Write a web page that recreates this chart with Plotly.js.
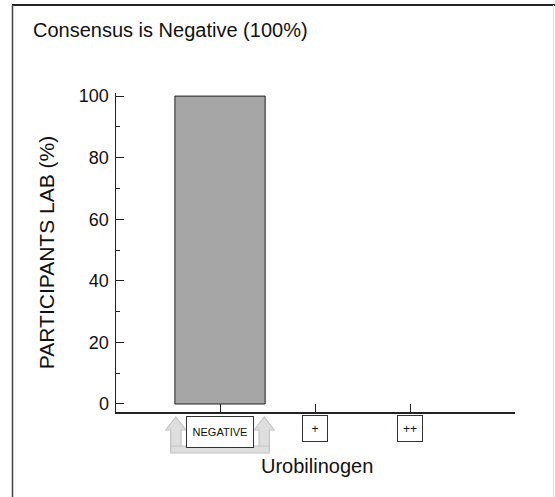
<!DOCTYPE html>
<html>
<head>
<meta charset="utf-8">
<script src="https://cdn.plot.ly/plotly-3.0.1.min.js"></script>
<style>html,body{margin:0;padding:0;background:#fff;}#chart{width:555px;height:497px;}</style>
</head>
<body>
<div id="chart"></div>
<script>
const categories = ["NEGATIVE", "+", "++"];
const participants = [100, 0, 0];
const yTicks = [0, 20, 40, 60, 80, 100];
const consensus = "NEGATIVE";

const W = 555, H = 497;
const mL = 116, mR = 40, mT = 93, mB = 85;
const plotW = W - mL - mR, plotH = H - mT - mB;
const py = p => (H - mB - p) / plotH; // pixel y -> paper y
const px = p => (p - mL) / plotW;     // pixel x -> paper x

const xs = categories.map((c, i) => i);
const ci = categories.indexOf(consensus);
const narrow = 'Liberation Sans Narrow, Arial Narrow, Liberation Sans, Arial';

const annotations = categories.map((c, i) => ({
  x: i, xref: 'x', y: py(i === ci ? 416 : 415), yref: 'paper', yanchor: 'top',
  text: c, showarrow: false,
  font: {family: narrow, size: i === ci ? 11 : 12, color: '#111'},
  width: i === ci ? 64 : 22, height: i === ci ? 28 : 23,
  bordercolor: '#333', borderwidth: 1, borderpad: 1, bgcolor: '#fff'
}));
annotations.push({
  x: px(317), xref: 'paper', y: py(466), yref: 'paper', yanchor: 'middle',
  text: 'Urobilinogen', showarrow: false,
  font: {family: narrow, size: 20, color: '#111'}
});

function arrowShape(cxOff) {
  const c = ci + cxOff;
  const dx = 0.055, hx = 0.105;
  const top = py(417), neck = py(430), bot = py(447);
  return {
    type: 'path', xref: 'x', yref: 'paper',
    path: `M ${c - dx} ${bot} L ${c - dx} ${neck} L ${c - hx} ${neck} L ${c} ${top} L ${c + hx} ${neck} L ${c + dx} ${neck} L ${c + dx} ${bot} Z`,
    fillcolor: '#dedede', line: {color: '#c4c4c4', width: 1.2}, layer: 'above'
  };
}
const frame = (x0, y0, x1, y1, color, width) => ({
  type: 'line', xref: 'paper', yref: 'paper',
  x0: px(x0), y0: py(y0), x1: px(x1), y1: py(y1),
  line: {color, width}, layer: 'below'
});
const shapes = [
  arrowShape(-0.465), arrowShape(0.465),
  {type: 'path', xref: 'x', yref: 'paper',
   path: `M ${ci - 0.52} ${py(446)} L ${ci + 0.52} ${py(446)} L ${ci + 0.52} ${py(453)} L ${ci - 0.52} ${py(453)} Z`,
   fillcolor: '#dedede', line: {color: '#c4c4c4', width: 1.2}, layer: 'above'},
  frame(12, 5, 555, 5, '#222', 2),
  frame(12.5, 5, 12.5, 497, '#444', 1.5),
  frame(553.5, 5, 553.5, 497, '#dddddd', 1)
];

const trace = {
  type: 'bar', x: xs, y: participants, width: 0.95,
  marker: {color: '#a6a6a6', line: {color: '#222', width: participants.map(v => v > 0 ? 1 : 0)}},
  hoverinfo: 'skip'
};

const layout = {
  width: W, height: H,
  margin: {l: mL, r: mR, t: mT, b: mB},
  paper_bgcolor: '#fff', plot_bgcolor: '#fff',
  showlegend: false,
  font: {family: 'Liberation Sans, Arial, sans-serif', color: '#111'},
  title: {text: 'Consensus is Negative (100%)', x: 33 / W, xanchor: 'left', xref: 'container',
          y: 1 - 30 / H, yanchor: 'middle', yref: 'container',
          font: {size: 20, color: '#111', family: 'Liberation Sans, Arial, sans-serif'}},
  xaxis: {
    range: [-1.095, 3.105], showgrid: false, zeroline: false,
    showline: true, linecolor: '#222', linewidth: 1.5,
    tickmode: 'array', tickvals: xs, ticks: 'inside', ticklen: 8, tickcolor: '#222',
    showticklabels: false, fixedrange: true
  },
  yaxis: {
    range: [-2.6, 101], showgrid: false, zeroline: false,
    showline: true, linecolor: '#222', linewidth: 1.5,
    tickmode: 'array', tickvals: yTicks, ticks: 'inside', ticklen: 8, tickcolor: '#222',
    ticklabelstandoff: 2,
    minor: {dtick: 10, tick0: 0, ticks: 'inside', ticklen: 4, tickcolor: '#222'},
    tickfont: {size: 18, color: '#111', family: 'Liberation Sans, Arial, sans-serif'},
    title: {text: 'PARTICIPANTS LAB (%)', standoff: 18,
            font: {size: 21, color: '#111', family: 'Liberation Sans, Arial, sans-serif'}},
    fixedrange: true
  },
  annotations, shapes
};

Plotly.newPlot('chart', [trace], layout, {displayModeBar: false, staticPlot: true});
</script>
</body>
</html>
